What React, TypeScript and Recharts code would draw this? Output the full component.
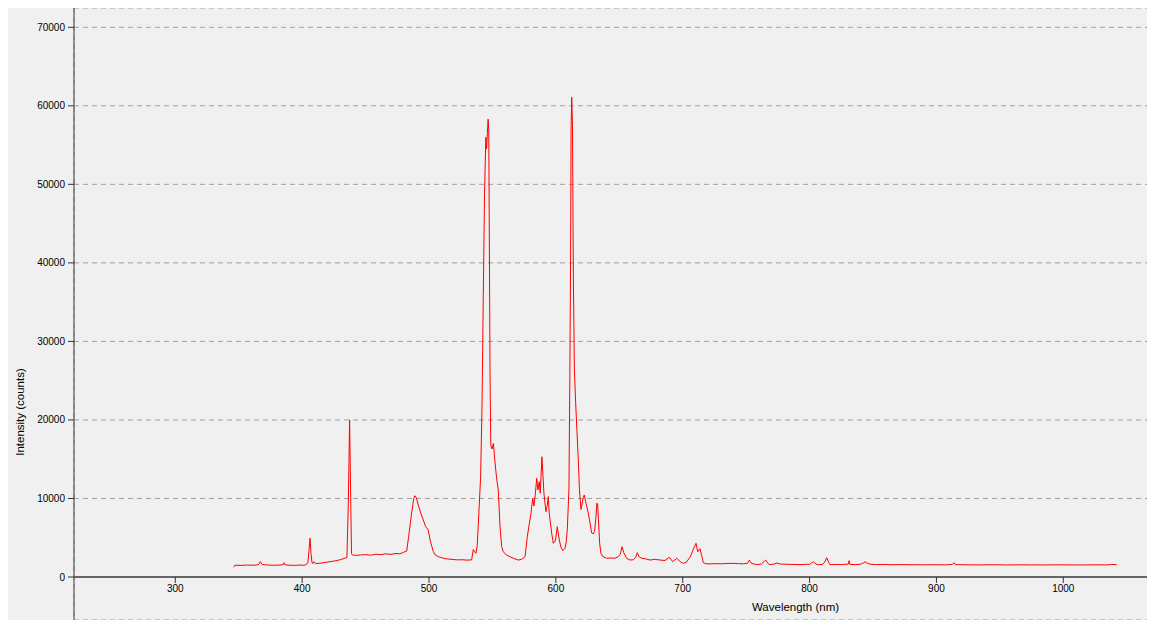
import React from 'react';
import { LineChart, Line, XAxis, YAxis, CartesianGrid, ReferenceLine, ReferenceDot } from 'recharts';

const WAVELENGTH = [
  346, 346.3, 347, 352, 357, 362, 365.5, 367, 368.5, 372, 377, 381, 385, 385.8, 386.6, 390, 394, 398, 401, 403,
  404.5, 405.5, 406.2, 407, 407.8, 408.8, 409.5, 410.5, 414, 418, 422, 426, 430, 433, 435.3, 436.4, 437.4, 438.1, 438.9, 439.6,
  442, 446, 450, 454, 458, 462, 466, 470, 474, 477, 480, 482.4, 484, 486.3, 488, 488.8, 490, 492, 494, 495.5,
  497.4, 499.4, 501, 503.4, 505, 507.3, 510, 514, 518, 522, 526, 530, 533.6, 534.9, 536, 537, 538, 538.9, 540.7, 541.8,
  542.8, 543.8, 544.8, 545.4, 546.0, 546.6, 547.1, 547.6, 548.1, 548.7, 549.6, 550.8, 551.8, 553.3, 554.6, 556, 557.3, 558.5, 561, 563.8,
  567, 570.4, 573, 575.7, 577.5, 579.1, 580.4, 581.7, 582.7, 583.8, 584.9, 585.9, 586.9, 587.7, 589, 590.6, 592.2, 593.2, 594, 594.8,
  596.7, 598, 599.6, 601.1, 602.7, 604, 605.4, 607.2, 608.2, 609, 610.3, 611, 611.6, 612, 612.5, 613.1, 613.8, 614.6, 615.6, 616.6,
  617.7, 618.6, 619.8, 620.8, 621.6, 622.4, 623.3, 624.5, 625.6, 627, 628.2, 629.5, 630.5, 631.5, 632.3, 632.9, 633.6, 634.5, 635.5, 637,
  640, 643, 646.6, 649.2, 650.8, 652.2, 653.5, 655.8, 658.4, 661.1, 663, 664.2, 665.5, 667.7, 671, 674.2, 678, 682.1, 686, 689.5,
  692.1, 695.3, 698, 700.5, 703, 706.3, 708.5, 710.5, 711.8, 713.6, 715, 716.2, 718, 721.5, 726, 731, 735, 739.9, 744, 748,
  751, 752.5, 754, 758.3, 762, 765.4, 767, 768.8, 772, 774.1, 777, 782, 787, 792.5, 797, 800, 803, 805, 806.9, 810,
  812, 813.5, 815, 816.1, 820, 825, 830.6, 831.1, 831.8, 836, 840, 842.5, 843.7, 845.5, 848, 852, 858, 865, 872, 880,
  890, 900, 908, 912.5, 913.8, 915, 925, 935, 945, 955, 965, 975, 985, 995, 1005, 1015, 1025, 1035, 1038, 1042,
];

const INTENSITY = [
  1250, 1300, 1500, 1480, 1520, 1500, 1560, 1950, 1600, 1530, 1500, 1510, 1560, 1820, 1550, 1500, 1480, 1520, 1490, 1550,
  1800, 3600, 4930, 3000, 1800, 1740, 1950, 1700, 1750, 1850, 1950, 2050, 2200, 2350, 2500, 9400, 20000, 12100, 3000, 2800,
  2750, 2800, 2850, 2780, 2900, 2850, 2950, 2880, 3000, 2950, 3150, 3300, 5200, 8150, 10000, 10350, 10100, 8900, 7900, 7260,
  6400, 5990, 4600, 3230, 2800, 2590, 2450, 2300, 2250, 2180, 2200, 2150, 2180, 3500, 3200, 3020, 4000, 6830, 12770, 22000,
  36000, 49000, 56000, 54500, 56500, 58300, 57000, 42000, 26000, 16800, 16300, 17000, 15000, 12570, 11080, 6400, 3860, 3230, 2800, 2590,
  2350, 2160, 2250, 2590, 5130, 6840, 8110, 10020, 9040, 10500, 12570, 11080, 12140, 10660, 15320, 10660, 8320, 9100, 10230, 8110,
  5570, 4290, 4600, 6400, 4710, 3800, 3350, 3650, 4500, 5990, 11080, 25000, 40000, 56900, 61100, 57500, 38200, 26400, 22200, 18700,
  14900, 11100, 8600, 9400, 10100, 10450, 9700, 8900, 8100, 6800, 5600, 5500, 5800, 7400, 9400, 9300, 7300, 4300, 3020, 2600,
  2380, 2420, 2380, 2590, 2900, 3860, 3100, 2380, 2160, 2200, 2500, 3100, 2600, 2380, 2300, 2160, 2250, 2160, 2100, 2510,
  1950, 2380, 1950, 1740, 1900, 2670, 3600, 4290, 3220, 3600, 2700, 1820, 1700, 1660, 1700, 1680, 1720, 1740, 1700, 1680,
  1750, 2160, 1750, 1570, 1650, 2160, 1750, 1570, 1650, 1780, 1650, 1620, 1600, 1570, 1620, 1600, 1950, 1650, 1570, 1600,
  1900, 2460, 1900, 1570, 1600, 1580, 1650, 2080, 1600, 1580, 1620, 1800, 1950, 1750, 1620, 1580, 1600, 1560, 1580, 1560,
  1550, 1560, 1550, 1600, 1820, 1580, 1550, 1540, 1560, 1530, 1550, 1540, 1530, 1550, 1540, 1530, 1550, 1540, 1600, 1570,
];

const X_TICKS = [300, 400, 500, 600, 700, 800, 900, 1000];
const Y_TICKS = [0, 10000, 20000, 30000, 40000, 50000, 60000, 70000];
const X_TITLE = 'Wavelength (nm)';
const Y_TITLE = 'Intensity (counts)';
const X_TITLE_AT = 788.9;

const data = WAVELENGTH.map((w, i) => ({ wl: w, counts: INTENSITY[i] }));

const FONT = '"Liberation Sans", Arial, sans-serif';

const YTitle = (props: any) => {
  const vb = props.viewBox || { x: 0, y: 0 };
  const x = vb.x + 11.5;
  const y = vb.y + 404;
  return (
    <text x={x} y={y} transform={`rotate(-90, ${x}, ${y})`} textAnchor="middle" dominantBaseline="central"
      fontSize={11.5} fill="#000" fontFamily={FONT}>
      {Y_TITLE}
    </text>
  );
};

const makeXTick = (t: number) => (p: any) => (
  <g>
    <line x1={p.cx} y1={p.cy} x2={p.cx} y2={p.cy + 6} stroke="#333" strokeWidth={1} />
    <text x={p.cx} y={p.cy + 15.5} textAnchor="middle" fontSize={10} fill="#000" fontFamily={FONT}>{t}</text>
  </g>
);

const xTitleShape = (p: any) => (
  <text x={p.cx} y={p.cy + 34} textAnchor="middle" fontSize={11.5} fill="#000" fontFamily={FONT}>{X_TITLE}</text>
);

export default function App() {
  return (
    <div style={{ width: 1147, height: 612, background: '#f0f0f0', fontFamily: FONT }}>
      <LineChart width={1147} height={612} data={data} margin={{ top: 0, right: 0, bottom: 0, left: 0 }}>
        <CartesianGrid stroke="#a0a0a0" strokeDasharray="5 4" />
        <XAxis
          type="number"
          dataKey="wl"
          domain={[220.15, 1072.3]}
          ticks={X_TICKS}
          allowDataOverflow
          height={0}
          tick={false}
          tickLine={false}
          axisLine={false}
        />
        <YAxis
          type="number"
          domain={[-5476, 72458]}
          ticks={Y_TICKS}
          allowDataOverflow
          width={66}
          tickSize={6}
          tickMargin={3}
          tick={{ fontSize: 10, fill: '#000', fontFamily: FONT }}
          tickLine={{ stroke: '#333' }}
          axisLine={{ stroke: '#555', strokeWidth: 1.2 }}
          label={{ content: YTitle }}
        />
        <ReferenceLine y={0} stroke="#666" strokeWidth={2} />
        {X_TICKS.map((t) => (
          <ReferenceDot key={t} x={t} y={0} r={0} shape={makeXTick(t)} />
        ))}
        <ReferenceDot x={X_TITLE_AT} y={0} r={0} shape={xTitleShape} />
        <Line
          type="linear"
          dataKey="counts"
          stroke="#ff0000"
          strokeWidth={1}
          dot={false}
          isAnimationActive={false}
        />
      </LineChart>
    </div>
  );
}
